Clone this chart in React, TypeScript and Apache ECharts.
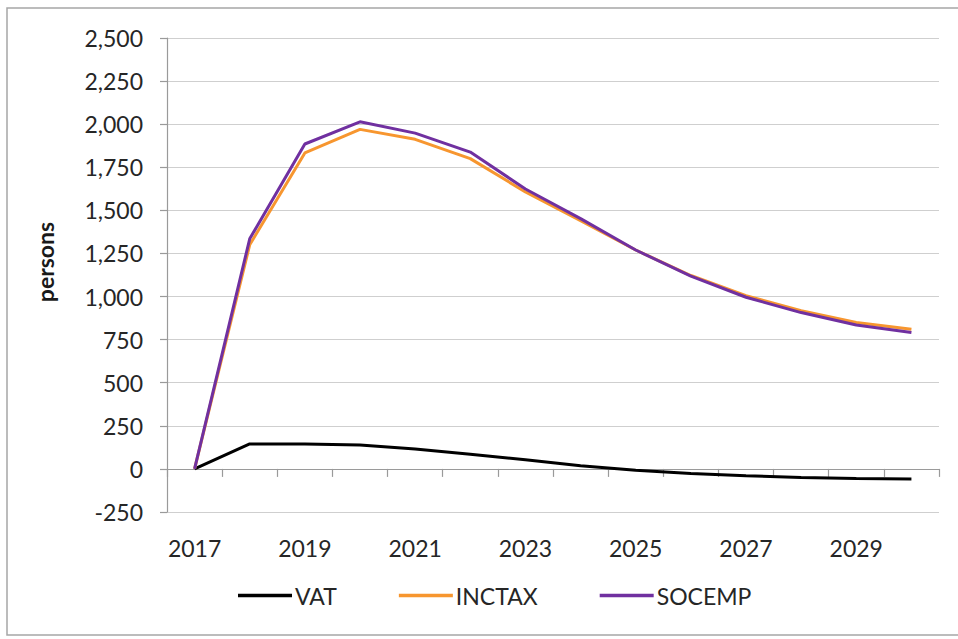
import React, { useEffect, useRef } from "react";
import * as echarts from "echarts";

const years = ["2017", "2018", "2019", "2020", "2021", "2022", "2023", "2024", "2025", "2026", "2027", "2028", "2029", "2030"];
const vat = [0, 145, 145, 139, 115, 85, 53, 18, -8, -26, -40, -50, -56, -58];
const inctax = [0, 1300, 1833, 1970, 1912, 1800, 1607, 1440, 1270, 1122, 1005, 918, 849, 810];
const socemp = [0, 1335, 1885, 2014, 1948, 1838, 1624, 1452, 1270, 1118, 996, 907, 835, 791];
const seriesNames = ["VAT", "INCTAX", "SOCEMP"];
const seriesColors = ["#000000", "#F7962F", "#7030A0"];

const FONT = "Lato, 'Open Sans', sans-serif";

export default function App() {
  const ref = useRef<HTMLDivElement>(null);
  useEffect(() => {
    if (!ref.current) return;
    const chart = echarts.init(ref.current, undefined, { renderer: "svg" });
    const data = [vat, inctax, socemp];
    chart.setOption({
      animation: false,
      backgroundColor: "#ffffff",
      textStyle: { fontFamily: FONT },
      grid: { left: 167, right: 19, top: 38, bottom: 127, containLabel: false },
      graphic: [
        {
          type: "rect",
          shape: { x: 7, y: 8, width: 980, height: 627 },
          style: { fill: "none", stroke: "#A6A6A6", lineWidth: 1.5 },
          silent: true,
        },
        {
          type: "text",
          x: 45,
          y: 262,
          rotation: Math.PI / 2,
          style: {
            text: "persons",
            fontFamily: FONT,
            fontSize: 23,
            fontWeight: "bold",
            fill: "#1a1a1a",
            align: "center",
            verticalAlign: "middle",
          },
        },
      ],
      legend: {
        left: 233,
        top: 579,
        icon: "rect",
        itemWidth: 54,
        itemHeight: 3.5,
        itemGap: 62,
        textStyle: { fontFamily: FONT, fontSize: 23, color: "#262626", padding: [0, 0, 0, -2] },
        data: seriesNames,
      },
      xAxis: [
        {
          type: "category",
          data: years,
          position: "bottom",
          axisLine: { show: false, onZero: false },
          axisTick: { show: false },
          axisLabel: { interval: 1, margin: 24, fontFamily: FONT, fontSize: 23, color: "#262626" },
          splitLine: { show: false },
        },
        {
          type: "category",
          data: years,
          position: "bottom",
          axisLine: { show: true, onZero: true, lineStyle: { color: "#9a9a9a", width: 1.2 } },
          axisTick: { show: true, interval: 0, length: 8, lineStyle: { color: "#9a9a9a", width: 1.2 } },
          axisLabel: { show: false },
          splitLine: { show: false },
        },
      ],
      yAxis: {
        type: "value",
        min: -250,
        max: 2500,
        interval: 250,
        axisLine: { show: true, lineStyle: { color: "#9a9a9a", width: 1.2 } },
        axisTick: { show: true, length: 7, lineStyle: { color: "#9a9a9a", width: 1.2 } },
        axisLabel: {
          margin: 24,
          fontFamily: FONT,
          fontSize: 23,
          color: "#262626",
          formatter: (v: number) => v.toLocaleString("en-US"),
        },
        splitLine: { show: true, lineStyle: { color: "#cfcfcf", width: 1.2 } },
      },
      series: seriesNames.map((name, i) => ({
        name,
        type: "line",
        xAxisIndex: 0,
        data: data[i],
        symbol: "none",
        showSymbol: false,
        lineStyle: { color: seriesColors[i], width: 3 },
        itemStyle: { color: seriesColors[i] },
        z: 2 + i,
      })),
    });
    return () => chart.dispose();
  }, []);
  return (
    <div
      ref={ref}
      style={{ position: "absolute", left: 0, top: 0, width: 958, height: 639 }}
    />
  );
}
